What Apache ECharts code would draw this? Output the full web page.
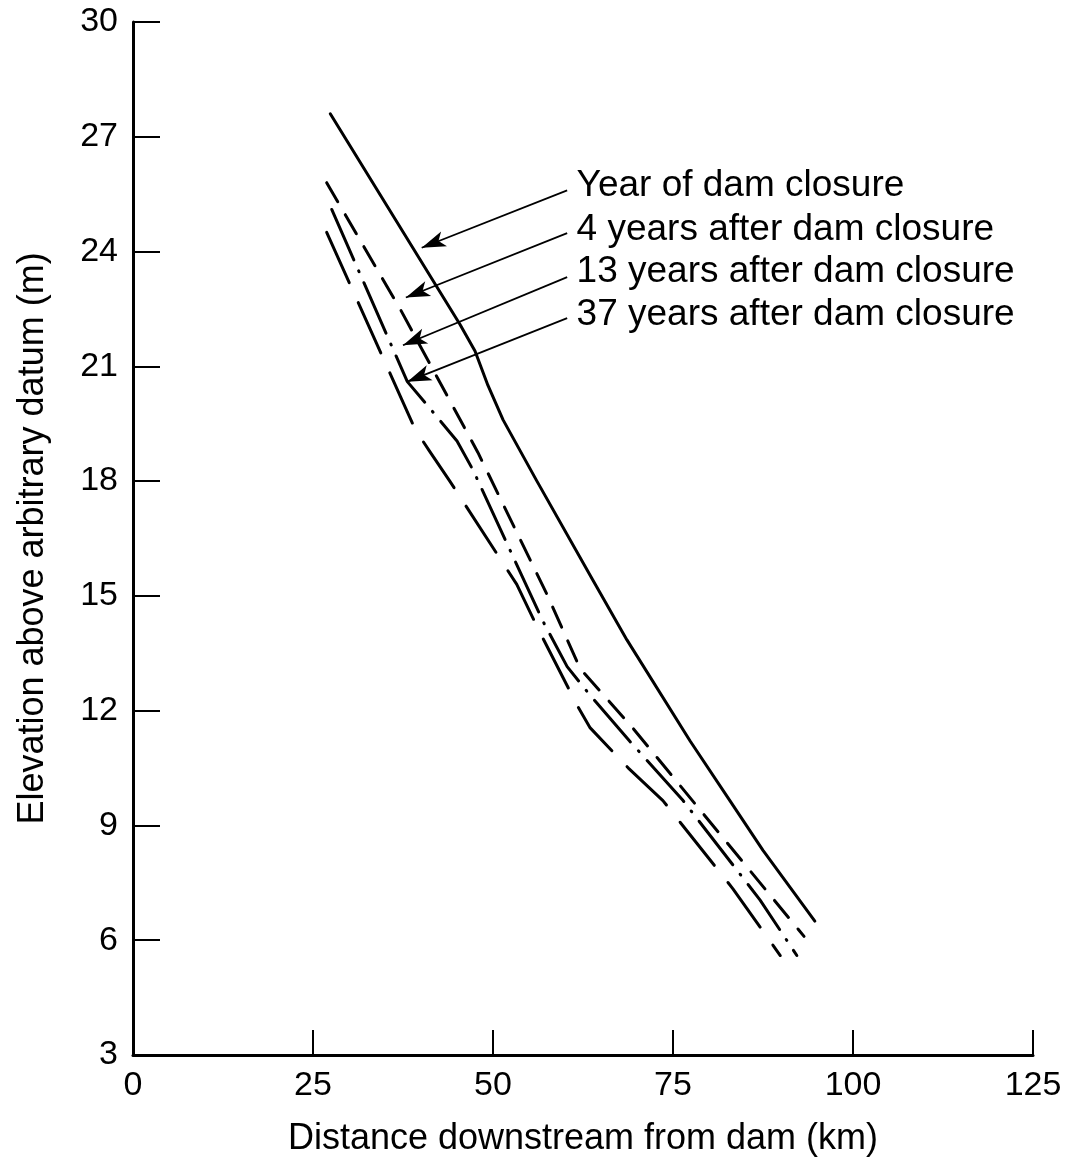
<!DOCTYPE html>
<html>
<head>
<meta charset="utf-8">
<script src="https://cdn.jsdelivr.net/npm/echarts@6/dist/echarts.min.js"></script>
<style>
  html, body { margin: 0; padding: 0; background: #fff; }
  #chart { width: 1072px; height: 1168px; }
</style>
</head>
<body>
<div id="chart"></div>
<script>
// 距离 (km) / 高程 (m)
const yearOfClosure = [[27.4, 27.6], [45.4, 22.1], [47.5, 21.4], [49.3, 20.5], [51.4, 19.6], [56.1, 18.0], [63.9, 15.4], [68.6, 13.85], [77.4, 11.2], [82.9, 9.65], [87.5, 8.35], [94.7, 6.5]]
const after4 = [[26.9, 25.8], [37.1, 22.5], [47.9, 18.75], [57.6, 15.0], [62.1, 13.1], [69.4, 11.55], [93.2, 6.1]]
const after13 = [[27.6, 25.1], [38.1, 20.6], [40.8, 20.0], [45.0, 19.05], [47.2, 18.3], [56.9, 14.35], [60.3, 13.15], [63.5, 12.4], [69.0, 11.2], [76.4, 9.65], [87.1, 7.05], [92.2, 5.6]]
const after37 = [[26.9, 24.5], [39.2, 19.35], [41.3, 18.75], [44.0, 18.0], [53.3, 15.3], [56.5, 14.05], [61.8, 12.1], [63.5, 11.55], [68.8, 10.5], [73.6, 9.65], [83.3, 7.35], [89.9, 5.6]]
const seriesNames = ['Year of dam closure', '4 years after dam closure', '13 years after dam closure', '37 years after dam closure']
// 标注文字位置及箭头起止点
const labelAnchors = [[60.5, 25.72], [60.5, 24.57], [60.5, 23.47], [60.5, 22.35]]
const arrowStarts = [[60.3, 25.6], [60.3, 24.48], [60.3, 23.33], [60.3, 22.26]]
const arrowTips = [[40.1, 24.1], [37.9, 22.8], [37.5, 21.55], [38.1, 20.6]]
const xTicks = [0, 25, 50, 75, 100, 125]
const yTicks = [3, 6, 9, 12, 15, 18, 21, 24, 27, 30]

const chart = echarts.init(document.getElementById('chart'))
const font = 'Liberation Sans, Arial, sans-serif'
const ink = '#000'

const lineData = [yearOfClosure, after4, after13, after37]
const dashes = ['solid', [22, 15], [55, 12, 1, 12], [55, 22]]
const seriesData = []
for (let i = 0; i < lineData.length; i++) {
  seriesData.push({
    name: seriesNames[i],
    type: 'line',
    data: lineData[i],
    symbol: 'none',
    lineStyle: {
      color: ink,
      width: 3,
      type: dashes[i],
      cap: 'round',
      join: 'round'
    },
    z: 3
  })
}

// 箭头引线
seriesData.push({
  type: 'line',
  data: [],
  markLine: {
    silent: true,
    symbol: ['none', 'arrow'],
    symbolSize: [12, 24],
    lineStyle: { color: ink, width: 1.8, type: 'solid' },
    label: { show: false },
    data: arrowStarts.map((p, i) => [{ coord: p }, { coord: arrowTips[i] }])
  }
})

// 图例文字
seriesData.push({
  type: 'scatter',
  symbolSize: 0,
  itemStyle: { opacity: 1 },
  data: labelAnchors.map((p, i) => [p[0], p[1], seriesNames[i]]),
  label: {
    show: true,
    position: 'right',
    distance: 8,
    formatter: p => p.value[2],
    color: ink,
    opacity: 1,
    fontSize: 37,
    fontFamily: font
  },
  silent: true
})

const option = {
  backgroundColor: '#fff',
  animation: false,
  grid: {
    left: 133,
    right: 39,
    top: 22,
    bottom: 113,
    containLabel: false
  },
  xAxis: {
    type: 'value',
    min: 0,
    max: 125,
    interval: 25,
    name: 'Distance downstream from dam (km)',
    nameLocation: 'middle',
    nameGap: 66,
    nameTextStyle: { fontSize: 36, color: ink, fontFamily: font },
    axisLine: { lineStyle: { color: ink, width: 3 } },
    axisTick: { inside: true, length: 25, lineStyle: { color: ink, width: 2 } },
    axisLabel: {
      margin: 14,
      fontSize: 34,
      color: ink,
      fontFamily: font,
      formatter: v => (xTicks.indexOf(v) >= 0 ? String(v) : '')
    },
    splitLine: { show: false }
  },
  yAxis: {
    type: 'value',
    min: 3,
    max: 30,
    interval: 3,
    name: 'Elevation above arbitrary datum (m)',
    nameLocation: 'middle',
    nameGap: 82,
    nameTextStyle: { fontSize: 36, color: ink, fontFamily: font },
    axisLine: { show: true, lineStyle: { color: ink, width: 3 } },
    axisTick: { show: true, inside: true, length: 27, lineStyle: { color: ink, width: 2 } },
    axisLabel: {
      margin: 15,
      fontSize: 34,
      color: ink,
      fontFamily: font,
      formatter: v => (yTicks.indexOf(v) >= 0 ? String(v) : '')
    },
    splitLine: { show: false }
  },
  series: seriesData
}

chart.setOption(option)
window.onresize = () => {
  chart.resize()
}
</script>
</body>
</html>
